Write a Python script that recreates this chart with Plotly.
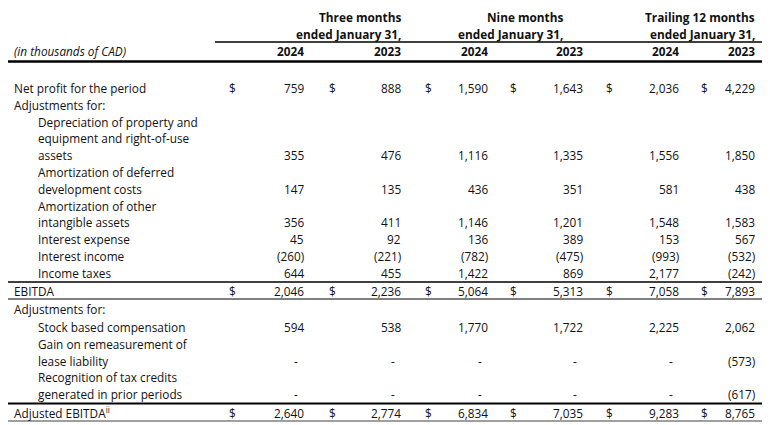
import plotly.graph_objects as go

# ---------------- data ----------------
row_labels = [
    "Net profit for the period", "Adjustments for:", "Depreciation of property and",
    "equipment and right-of-use", "assets", "Amortization of deferred",
    "development costs", "Amortization of other", "intangible assets",
    "Interest expense", "Interest income", "Income taxes", "EBITDA",
    "Adjustments for:", "Stock based compensation", "Gain on remeasurement of",
    "lease liability", "Recognition of tax credits", "generated in prior periods",
    "Adjusted EBITDA<sup>ii</sup>",
]
row_indent = [0, 0, 1, 1, 1, 1, 1, 1, 1, 1, 1, 1, 0, 0, 1, 1, 1, 1, 1, 0]
value_rows = [0, 4, 6, 8, 9, 10, 11, 12, 14, 16, 18, 19]
dollar_rows = [0, 12, 19]

group_headers = ["Three months", "Nine months", "Trailing 12 months"]
group_sub = ["ended January 31,", "ended January 31,", "ended January 31,"]
year_labels = ["2024", "2023", "2024", "2023", "2024", "2023"]
unit_label = "(in thousands of CAD)"

three_2024 = [759, 355, 147, 356, 45, -260, 644, 2046, 594, 0, 0, 2640]
three_2023 = [888, 476, 135, 411, 92, -221, 455, 2236, 538, 0, 0, 2774]
nine_2024 = [1590, 1116, 436, 1146, 136, -782, 1422, 5064, 1770, 0, 0, 6834]
nine_2023 = [1643, 1335, 351, 1201, 389, -475, 869, 5313, 1722, 0, 0, 7035]
ttm_2024 = [2036, 1556, 581, 1548, 153, -993, 2177, 7058, 2225, 0, 0, 9283]
ttm_2023 = [4229, 1850, 438, 1583, 567, -532, -242, 7893, 2062, -573, -617, 8765]
columns = [three_2024, three_2023, nine_2024, nine_2023, ttm_2024, ttm_2023]

# ---------------- layout constants ----------------
W, H = 770, 425
OFF = 8  # page body margin
FONT = "Open Sans"
FS = 11.8
TXT = "#111111"

col_right = [306, 403, 490, 585, 681, 757]
col_dollar = [227, 327, 423, 508, 604, 699]
group_right = [403, 565, 757]

row_y = [88 + i * 16.8 for i in range(12)] + [290.5, 309, 327, 344, 360.5, 377, 394, 412.5]
hdr_y = [17, 34, 51]


def fmt(v):
    if v < 0:
        return "({:,})".format(-v)
    return "{:,}".format(v)


ann = []


def text(x, y, s, anchor="left", bold=False, italic=False):
    if bold:
        s = "<b>" + s + "</b>"
    if italic:
        s = "<i>" + s + "</i>"
    ann.append(dict(x=x, y=y, xref="x", yref="y", text=s, showarrow=False,
                    xanchor=anchor, yanchor="middle",
                    font=dict(family=FONT, size=FS, color=TXT)))


# headers
for g in range(3):
    text(group_right[g], hdr_y[0], group_headers[g], "right", bold=True)
    text(group_right[g], hdr_y[1], group_sub[g], "right", bold=True)
for c in range(6):
    text(col_right[c], hdr_y[2], year_labels[c], "right", bold=True)
text(12, hdr_y[2], unit_label, "left", italic=True)

# row labels
for i, lab in enumerate(row_labels):
    text(12 + 24 * row_indent[i], row_y[i], lab, "left")

# values
for c, col in enumerate(columns):
    for k, r in enumerate(value_rows):
        v = col[k]
        if v == 0:
            text(col_right[c] - 6, row_y[r], "-", "right")
        else:
            text(col_right[c], row_y[r], fmt(v), "right")
        if r in dollar_rows:
            text(col_dollar[c], row_y[r], "$", "left")

# ---------------- lines ----------------
shapes = []


def hline(x0, x1, y, w, color="black"):
    shapes.append(dict(type="line", xref="x", yref="y", x0=x0, x1=x1, y0=y, y1=y,
                       line=dict(color=color, width=w)))


def vline(x, y0, y1, w, color):
    shapes.append(dict(type="line", xref="x", yref="y", x0=x, x1=x, y0=y0, y1=y1,
                       line=dict(color=color, width=w)))


GREY = "#7f7f7f"
vline(3, 2, 421, 1.5, GREY)
vline(767, 2, 421, 1.5, GREY)
hline(3, 767, 421, 1.5, GREY)
hline(3, 767, 2.5, 2.5)
hline(215, 767, 42, 1.3)
hline(3, 767, 61.5, 2.6)
hline(3, 767, 282, 1.3)
hline(3, 767, 299, 1)
hline(3, 767, 403.5, 2)

fig = go.Figure()
fig.add_trace(go.Scatter(x=[OFF], y=[OFF], mode="markers", marker=dict(opacity=0),
                         hoverinfo="skip", showlegend=False))
fig.update_layout(
    width=W, height=H, margin=dict(l=0, r=0, t=0, b=0),
    paper_bgcolor="white", plot_bgcolor="white",
    xaxis=dict(range=[OFF, W + OFF], visible=False, fixedrange=True),
    yaxis=dict(range=[H + OFF, OFF], visible=False, fixedrange=True),
    annotations=ann, shapes=shapes, showlegend=False,
)
fig.write_html("out.html")
